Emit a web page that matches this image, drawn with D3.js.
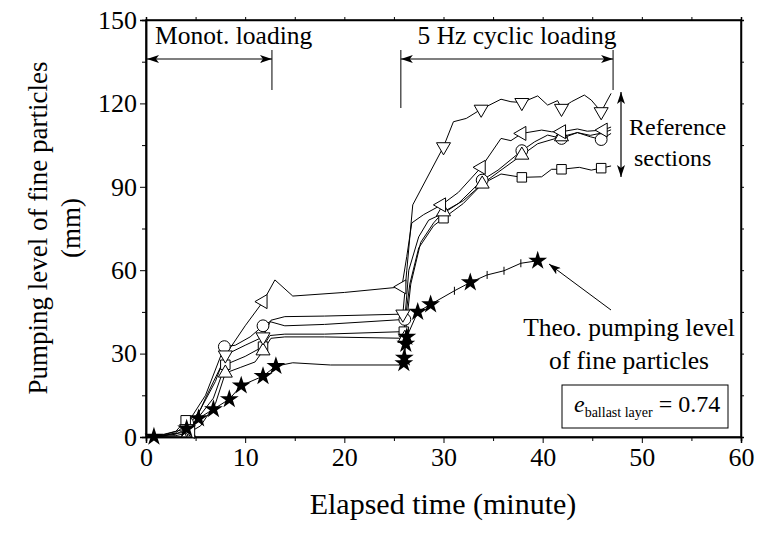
<!DOCTYPE html>
<html><head><meta charset="utf-8">
<script src="https://cdn.jsdelivr.net/npm/d3@7"></script>
</head>
<body style="margin:0;background:#fff">
<svg id="fig" width="758" height="536"></svg>
<script>
// ---- data ----
const xTicks = [0, 10, 20, 30, 40, 50, 60];
const yTicks = [0, 30, 60, 90, 120, 150];

// left-pointing triangle section
const tLeft = [0, 1.0, 2.5, 4.5, 6.0, 7.5, 8.3, 10.0, 11.8, 13.0, 14.8, 20, 25.8, 26.3, 26.8, 28.0, 29.8, 31.5, 33.8, 35.8, 36.8, 37.9, 39.9, 40.9, 41.9, 43.5, 44.5, 46.1, 46.9];
const vLeft = [0, 0.3, 1.0, 2.0, 14, 25, 31, 40, 48.7, 56.5, 50.7, 52, 54, 65, 77, 80, 83.5, 88, 97, 107.4, 106.6, 109.2, 110.4, 109.8, 109.8, 110.8, 110, 110.4, 111.5];
const mLeft = [3, 8, 12, 16, 18, 21, 24, 27];

// down-pointing triangle section
const tDown = [0, 1.5, 3, 4.1, 5.5, 7, 8.0, 10, 11.8, 12.6, 14, 18, 25.9, 26.3, 26.9, 30.0, 31.0, 32.3, 33.8, 35.8, 36.8, 37.9, 39.5, 40.5, 41.5, 41.9, 42.9, 44.2, 44.9, 45.9, 46.9];
const vDown = [0, 0.3, 1, 3, 10, 20, 29.5, 33, 36, 42, 43.3, 43.5, 44.2, 60, 83.5, 104.4, 113.4, 114.6, 117.9, 121.5, 120.6, 120.3, 122.7, 119.4, 121, 118.2, 120.6, 123, 121.2, 117, 123.6];
const mDown = [3, 6, 8, 12, 15, 18, 21, 25, 29];

// circle section
const tCirc = [0, 1.5, 3, 4.2, 6, 7.9, 9, 10.5, 11.8, 12.5, 14, 18, 26.1, 26.5, 27.5, 28.5, 30, 31.5, 33.9, 35.5, 37.9, 39.2, 40.5, 41.9, 43.5, 44.8, 45.9, 46.9];
const vCirc = [0, 0.2, 1.5, 5, 15, 32.5, 33, 36, 40, 41.5, 40, 40.5, 42.3, 60, 72, 78, 80.5, 84, 92.4, 96, 103, 106.2, 108.6, 107.4, 109.5, 108, 107, 109.2];
const mCirc = [3, 5, 8, 12, 18, 20, 23, 26];

// square section
const tSq = [0, 1.5, 3, 4.0, 5.5, 6.8, 8.0, 10, 11.8, 12.5, 14, 18, 26.0, 26.6, 27.5, 29, 30, 32, 33.9, 35.8, 37.9, 39.9, 40.9, 41.9, 43.7, 44.9, 45.9, 46.9];
const vSq = [0, 0.5, 2, 6, 8, 14, 26, 29, 32.5, 36.5, 37, 37, 37.9, 55, 68, 76, 78.7, 84, 91, 94.6, 93.4, 93.6, 96.3, 96.3, 97, 96, 96.7, 97.5];
const mSq = [3, 6, 8, 12, 16, 20, 23, 26];

// up-pointing triangle section
const tUp = [0, 1.5, 3, 4.3, 5.5, 7, 8.0, 9.5, 11, 11.8, 12.6, 14, 18, 26.1, 26.7, 27.7, 29, 30, 32, 33.9, 35.8, 37.9, 39.5, 41.9, 43.5, 44.8, 46.2, 46.9];
const vUp = [0, 0.2, 0.5, 1.5, 4, 12, 23, 25, 27, 31, 35.5, 36, 36, 35.5, 55, 70, 77, 81, 85, 91, 96, 101.4, 105.5, 108, 109.5, 108.5, 109.5, 110.5];
const mUp = [3, 6, 9, 13, 17, 19, 21, 23];

// theoretical pumping level (stars)
const tTheo = [0.8, 4.1, 5.3, 6.8, 8.4, 9.6, 11.8, 13.1, 14.8, 18.6, 25.6, 26.0, 26.05, 26.2, 26.3, 27.4, 28.7, 31.1, 32.7, 34.4, 36.1, 37.8, 39.5];
const vTheo = [0.1, 3.0, 6.7, 10, 13.6, 18.5, 21.9, 25.5, 26.7, 25.9, 25.9, 26.5, 28.5, 33.5, 36, 45, 47.7, 52.6, 55.6, 58.3, 59.8, 62.5, 63.4];
const mTheoStar = [0, 1, 2, 3, 4, 5, 6, 7, 11, 12, 13, 14, 15, 16, 18, 22];
const mTheoTick = [17, 19, 20, 21];

// ---- drawing ----
const FONT = "Liberation Serif";
const svg = d3.select("#fig");
const x = d3.scaleLinear().domain([0, 60]).range([146, 741]);
const y = d3.scaleLinear().domain([0, 150]).range([437, 20]);

svg.append("g").attr("transform", `translate(${x(0)},0)`)
  .call(d3.axisLeft(y).tickValues(yTicks).tickSize(6).tickPadding(3).tickFormat(d3.format("d")));
svg.append("g").attr("transform", `translate(${x(0)},0)`)
  .call(d3.axisLeft(y).tickValues(d3.range(15, 150, 30)).tickSize(4).tickFormat(""));
svg.append("g").attr("transform", `translate(0,${y(0)})`)
  .call(d3.axisBottom(x).tickValues(xTicks).tickSize(6).tickPadding(5).tickFormat(d3.format("d")));
svg.append("g").attr("transform", `translate(0,${y(0)})`)
  .call(d3.axisBottom(x).tickValues(d3.range(5, 60, 10)).tickSize(4).tickFormat(""));
svg.append("g").attr("transform", `translate(0,${y(150)})`)
  .call(d3.axisTop(x).tickValues(d3.range(0, 61, 5)).tickSize(3).tickFormat(""));
svg.append("g").attr("transform", `translate(${x(60)},0)`)
  .call(d3.axisRight(y).tickValues(d3.range(0, 151, 15)).tickSize(3).tickFormat(""));
svg.selectAll("g").attr("font-family", null).attr("font-size", null);
svg.selectAll(".domain").attr("stroke", "#000").attr("stroke-width", 1.5);
svg.selectAll(".tick line").attr("stroke", "#000").attr("stroke-width", 1);
svg.selectAll(".tick text").attr("font-size", 26).attr("fill", "#000");
svg.append("rect").attr("x", x(0)).attr("y", y(150)).attr("width", x(60) - x(0)).attr("height", y(0) - y(150))
  .attr("fill", "none").attr("stroke", "#000").attr("stroke-width", 1.5);

const defs = svg.append("defs");
function mk(id, orient) {
  defs.append("marker").attr("id", id).attr("viewBox", "0 0 12 8").attr("refX", 12).attr("refY", 4)
    .attr("markerWidth", 12).attr("markerHeight", 8).attr("markerUnits", "userSpaceOnUse").attr("orient", orient)
    .append("path").attr("d", "M0,0 L12,4 L0,8 L3,4 Z").attr("fill", "#000");
}
mk("arr", "auto"); mk("arrS", "auto-start-reverse");

const line = d3.line().x(d => x(d[0])).y(d => y(d[1]));
const gLines = svg.append("g");
const gMarks = svg.append("g");

const series = [
  {t: tCirc, v: vCirc, m: mCirc, type: "circle"},
  {t: tSq, v: vSq, m: mSq, type: "square"},
  {t: tUp, v: vUp, m: mUp, type: "up"},
  {t: tDown, v: vDown, m: mDown, type: "down"},
  {t: tLeft, v: vLeft, m: mLeft, type: "left"}
];
series.forEach(s => {
  const pts = s.t.map((t, i) => [t, s.v[i]]);
  gLines.append("path").datum(pts).attr("d", line).attr("fill", "none").attr("stroke", "#000").attr("stroke-width", 1);
});
const theoPts = tTheo.map((t, i) => [t, vTheo[i]]);
gLines.append("path").datum(theoPts).attr("d", line).attr("fill", "none").attr("stroke", "#000").attr("stroke-width", 1);

series.forEach(s => {
  let sym, rot = 0;
  if (s.type === "circle") sym = d3.symbol().type(d3.symbolCircle).size(110);
  else if (s.type === "square") sym = d3.symbol().type(d3.symbolSquare).size(90);
  else { sym = d3.symbol().type(d3.symbolTriangle).size(85); rot = s.type === "down" ? 180 : s.type === "left" ? -90 : 0; }
  gMarks.selectAll(null).data(s.m).enter().append("path")
    .attr("d", sym)
    .attr("transform", i => `translate(${x(s.t[i])},${y(s.v[i])}) rotate(${rot})`)
    .attr("fill", "#fff").attr("stroke", "#000").attr("stroke-width", 1);
});
gMarks.selectAll(null).data(mTheoStar).enter().append("path")
  .attr("d", d3.symbol().type(d3.symbolStar).size(110))
  .attr("transform", i => `translate(${x(tTheo[i])},${y(vTheo[i])})`)
  .attr("fill", "#000");
gMarks.selectAll(null).data(mTheoTick).enter().append("line")
  .attr("x1", i => x(tTheo[i])).attr("x2", i => x(tTheo[i]))
  .attr("y1", i => y(vTheo[i]) - 4).attr("y2", i => y(vTheo[i]) + 4)
  .attr("stroke", "#000").attr("stroke-width", 1);

const ann = svg.append("g");
function txt(xx, yy, s, size, anchor) {
  return ann.append("text").attr("x", xx).attr("y", yy).attr("font-size", size)
    .attr("text-anchor", anchor || "start").attr("fill", "#000").text(s);
}
txt(155, 44, "Monot. loading", 25.5);
txt(517, 44, "5 Hz cyclic loading", 25.5, "middle");
function dbl(x1, x2, yy) {
  ann.append("line").attr("x1", x1).attr("x2", x2).attr("y1", yy).attr("y2", yy).attr("stroke", "#000").attr("stroke-width", 1.2)
    .attr("marker-start", "url(#arrS)").attr("marker-end", "url(#arr)");
}
dbl(x(0) + 1, x(12.7), 59);
dbl(x(25.7), x(47.1), 59);
[[x(12.7), 50, 90], [x(25.7), 50, 108], [x(47.1), 50, 90]].forEach(d =>
  ann.append("line").attr("x1", d[0]).attr("x2", d[0]).attr("y1", d[1]).attr("y2", d[2]).attr("stroke", "#000").attr("stroke-width", 1));
ann.append("line").attr("x1", 621).attr("x2", 621).attr("y1", 92).attr("y2", 177).attr("stroke", "#000").attr("stroke-width", 1.2)
  .attr("marker-start", "url(#arrS)").attr("marker-end", "url(#arr)");
txt(629, 135, "Reference", 24);
txt(634, 166, "sections", 24);
ann.append("line").attr("x1", 611).attr("y1", 310).attr("x2", 549).attr("y2", 264).attr("stroke", "#000").attr("stroke-width", 1)
  .attr("marker-end", "url(#arr)");
txt(629, 336, "Theo. pumping level", 25.5, "middle");
txt(629, 369, "of fine particles", 25.5, "middle");
ann.append("rect").attr("x", 562).attr("y", 385).attr("width", 166).attr("height", 43).attr("fill", "#fff").attr("stroke", "#000").attr("stroke-width", 1);
const et = txt(574, 412, "", 24);
et.append("tspan").attr("font-style", "italic").text("e");
et.append("tspan").attr("dy", 5).attr("font-size", 14).text("ballast layer");
et.append("tspan").attr("dy", -5).text(" = 0.74");

function title(tr, s, size) {
  svg.append("text").attr("transform", tr).attr("text-anchor", "middle").attr("font-size", size)
    .attr("fill", "#000").text(s);
}
title("translate(443,514)", "Elapsed time (minute)", 30);
title("translate(47,228) rotate(-90)", "Pumping level of fine particles", 27);
title("translate(80,228) rotate(-90)", "(mm)", 27);

// font: set as attribute and as an important inline style on every text
svg.selectAll("text").each(function () {
  this.setAttribute("font-family", FONT);
  this.style.setProperty("font-family", "'Liberation Serif', serif", "important");
});
</script></body></html>
